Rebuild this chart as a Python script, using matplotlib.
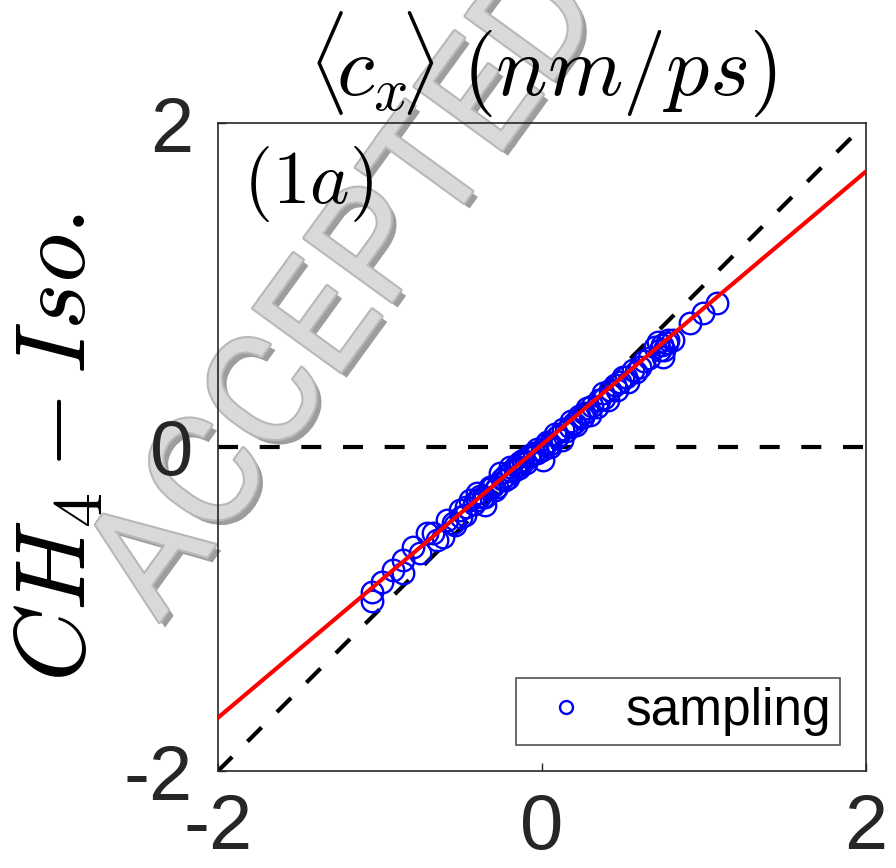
import numpy as np
import matplotlib
matplotlib.use("Agg")
import matplotlib.pyplot as plt
import matplotlib.patheffects as pe

plt.rcParams['mathtext.fontset'] = 'cm'
plt.rcParams['axes.unicode_minus'] = False

# sampled points (x, y)
x_vals = [-1.049, -1.049, -0.988, -0.920, -0.858, -0.858, -0.796, -0.753, -0.710, -0.673,
          -0.648, -0.611, -0.586, -0.537, -0.506, -0.475, -0.444, -0.401, -0.364, -0.352,
          -0.321, -0.290, -0.259, -0.228, -0.198, -0.167, -0.136, -0.117, -0.074, -0.031,
          0.006, 0.019, 0.049, 0.093, 0.123, 0.173, 0.210, 0.253, 0.296, 0.340,
          0.377, 0.407, 0.463, 0.500, 0.531, 0.562, 0.605, 0.728, 0.747, 0.772,
          0.716, 0.809, 0.914, 0.994, 1.080,
          -0.55, -0.50, -0.47, -0.42, -0.40, -0.38, -0.35, -0.33, -0.30, -0.28,
          -0.25, -0.23, -0.21, -0.19, -0.16, -0.14, -0.12, -0.10, -0.08, -0.05,
          -0.03, 0.00, 0.03, 0.05, 0.08, 0.10, 0.13, 0.15, 0.18, 0.20,
          0.23, 0.26, 0.28, 0.31, 0.35, 0.38, 0.42, 0.45, 0.48, 0.52,
          0.58, 0.63, 0.66, 0.70, 0.75, 0.78, 0.74]
y_vals = [-0.951, -0.895, -0.833, -0.759, -0.778, -0.698, -0.617, -0.654, -0.531, -0.531,
          -0.574, -0.556, -0.451, -0.481, -0.389, -0.420, -0.327, -0.284, -0.309, -0.358,
          -0.247, -0.265, -0.160, -0.204, -0.123, -0.142, -0.093, -0.080, -0.049, -0.037,
          -0.080, 0.012, 0.000, 0.062, 0.043, 0.123, 0.136, 0.185, 0.198, 0.247,
          0.333, 0.290, 0.352, 0.432, 0.401, 0.475, 0.494, 0.599, 0.556, 0.642,
          0.648, 0.660, 0.765, 0.827, 0.889,
          -0.47, -0.43, -0.37, -0.35, -0.33, -0.30, -0.31, -0.26, -0.24, -0.25,
          -0.20, -0.18, -0.19, -0.15, -0.12, -0.13, -0.09, -0.10, -0.06, -0.04,
          -0.01, -0.02, 0.03, 0.02, 0.08, 0.07, 0.11, 0.10, 0.16, 0.15,
          0.19, 0.21, 0.24, 0.25, 0.29, 0.30, 0.35, 0.38, 0.40, 0.43,
          0.46, 0.53, 0.55, 0.62, 0.60, 0.66, 0.63]

fit_slope = 0.843
fit_intercept = 0.015

x_lim = [-2, 2]
y_lim = [-2, 2]
ticks = [-2, 0, 2]
tick_labels = ['-2', '0', '2']

fig = plt.figure(figsize=(8.96, 8.68), dpi=100)
ax = fig.add_axes([218/896, 1-771/868, 648/896, 648/868])
ax.set_facecolor('none')

# watermark
fig.text(348/896, 1-292/868, 'ACCEPTED', fontsize=110,
         family=['DejaVu Sans Condensed', 'Liberation Sans Narrow', 'Roboto'],
         rotation=54, rotation_mode='anchor', ha='center', va='center',
         color='#d9d9d9', zorder=-5,
         path_effects=[pe.withSimplePatchShadow(offset=(4, -4), shadow_rgbFace='#8c8c8c', alpha=0.85),
                       pe.withStroke(linewidth=3, foreground='#b8b8b8')])

xx = np.array(x_lim)
ax.plot(xx, xx, color='black', lw=3, linestyle=(0, (4.8, 5.2)), zorder=2)
ax.axhline(0, color='black', lw=3, linestyle=(0, (4.8, 5.2)), zorder=2)
ax.plot(x_vals, y_vals, 'o', mfc='none', mec='blue', ms=15.5, mew=1.7,
        label='sampling', zorder=3)
ax.plot(xx, fit_slope*xx + fit_intercept, color='red', lw=3, zorder=4)

ax.set_xlim(x_lim)
ax.set_ylim(y_lim)
ax.set_xticks(ticks)
ax.set_xticklabels(tick_labels)
ax.set_yticks(ticks)
ax.set_yticklabels(tick_labels)
for lab in ax.get_xticklabels() + ax.get_yticklabels():
    lab.set_fontfamily('Liberation Sans')
    lab.set_fontsize(56)
    lab.set_color('#262626')
ax.tick_params(direction='in', length=6, width=1, color='#262626')
ax.tick_params(axis='x', pad=15)
ax.tick_params(axis='y', pad=18)
for s in ax.spines.values():
    s.set_color('#262626')
    s.set_linewidth(1.2)

ax.set_title(r'$\langle\!c_x\!\rangle\;(nm/ps)$', fontsize=62, pad=20)
ax.set_ylabel(r'$CH_4-Iso.$', fontsize=72, labelpad=12)
ax.text(0.038, 0.968, r'$(1a)$', transform=ax.transAxes, fontsize=54,
        ha='left', va='top')

leg = ax.legend(loc='lower right', prop={'family': 'Liberation Sans', 'size': 37},
                frameon=True, fancybox=False, borderaxespad=0.5, handletextpad=0.35,
                markerscale=0.6, borderpad=0.18, handlelength=1.6)
leg.get_frame().set_edgecolor('#262626')
leg.get_frame().set_linewidth(1.2)

fig.savefig('out.png', dpi=100)
